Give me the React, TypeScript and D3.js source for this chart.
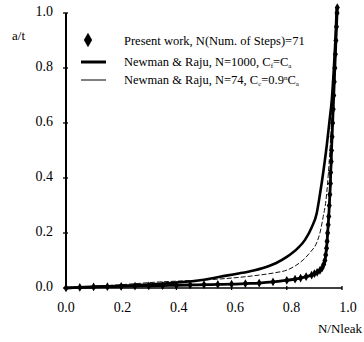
import React from 'react';
import * as d3 from 'd3';

// Present work, N(Num. of Steps)=71
const presentX = [0, 0.05, 0.1, 0.15, 0.2, 0.25, 0.3, 0.35, 0.4, 0.45, 0.5, 0.55, 0.6, 0.65, 0.7, 0.75, 0.8, 0.83, 0.85, 0.87, 0.89, 0.9, 0.91, 0.92, 0.928, 0.934, 0.938, 0.941, 0.944, 0.946, 0.948, 0.95, 0.952, 0.954, 0.956, 0.958, 0.959, 0.961, 0.962, 0.964, 0.966, 0.968, 0.97, 0.972, 0.974, 0.976, 0.978, 0.98, 0.982, 0.983];
const presentY = [0, 0.002, 0.004, 0.005, 0.006, 0.007, 0.008, 0.009, 0.01, 0.011, 0.012, 0.013, 0.014, 0.016, 0.018, 0.022, 0.028, 0.032, 0.036, 0.041, 0.047, 0.052, 0.057, 0.064, 0.073, 0.086, 0.1, 0.12, 0.145, 0.17, 0.2, 0.23, 0.26, 0.3, 0.34, 0.38, 0.42, 0.46, 0.5, 0.55, 0.6, 0.65, 0.7, 0.75, 0.8, 0.85, 0.9, 0.95, 1.0, 1.02];

// Newman & Raju, N=1000
const nr1000X = [0, 0.1, 0.2, 0.3, 0.4, 0.5, 0.558, 0.62, 0.68, 0.714, 0.76, 0.8, 0.84, 0.866, 0.89, 0.908, 0.92, 0.932, 0.945, 0.955, 0.963, 0.97, 0.976, 0.981];
const nr1000Y = [0, 0.004, 0.008, 0.013, 0.02, 0.03, 0.041, 0.052, 0.064, 0.073, 0.09, 0.113, 0.145, 0.175, 0.22, 0.27, 0.34, 0.42, 0.52, 0.61, 0.684, 0.79, 0.9, 1.02];

// Newman & Raju, N=74
const nr74X = [0, 0.2, 0.34, 0.45, 0.53, 0.62, 0.7, 0.76, 0.8, 0.83, 0.859, 0.885, 0.908, 0.92, 0.932, 0.942, 0.953, 0.962, 0.97, 0.977, 0.982];
const nr74Y = [0, 0.012, 0.022, 0.027, 0.031, 0.038, 0.047, 0.056, 0.065, 0.08, 0.102, 0.13, 0.164, 0.2, 0.26, 0.32, 0.45, 0.6, 0.75, 0.9, 1.0];

const ticks = [0, 0.2, 0.4, 0.6, 0.8, 1.0];

const font = '"Liberation Serif", "Times New Roman", serif';

const App = () => {
  const width = 364;
  const height = 342;
  const x = d3.scaleLinear().domain([0, 1]).range([66, 342]);
  const y = d3.scaleLinear().domain([0, 1]).range([288, 13]);

  const line = d3.line<[number, number]>()
    .x(d => x(d[0]))
    .y(d => y(d[1]))
    .curve(d3.curveMonotoneX);

  const zip = (xs: number[], ys: number[]) => xs.map((v, i) => [v, ys[i]] as [number, number]);
  const present = zip(presentX, presentY);
  const nr1000 = zip(nr1000X, nr1000Y);
  const nr74 = zip(nr74X, nr74Y);

  const diamond = d3.symbol().type(d3.symbolDiamond);

  return (
    <div style={{ position: 'absolute', left: 0, top: 0 }}>
      <svg width={width} height={height} style={{ display: 'block', background: '#fff' }} fontFamily={font}>
        {/* curves */}
        <path d={line(nr74) || ''} fill="none" stroke="#111" strokeWidth={1} strokeDasharray="5,2" />
        <path d={line(nr1000) || ''} fill="none" stroke="#000" strokeWidth={2.6} />
        <path d={line(present) || ''} fill="none" stroke="#000" strokeWidth={2.8} />
        {present.map((d, i) => (
          <path key={i} d={diamond.size(22)() || ''} transform={`translate(${x(d[0])},${y(d[1])})`} fill="#000" />
        ))}

        {/* axes */}
        <line x1={x(0)} x2={x(0)} y1={y(0)} y2={y(1)} stroke="#000" strokeWidth={2} />
        <line x1={x(0)} x2={x(1)} y1={y(0)} y2={y(0)} stroke="#000" strokeWidth={1.3} />
        {ticks.map(t => (
          <g key={'y' + t}>
            <line x1={x(0) - 3} x2={x(0) + 2} y1={y(t)} y2={y(t)} stroke="#000" strokeWidth={1.3} />
            <text x={53} y={y(t) + 3} textAnchor="end" fontSize={14}>{t.toFixed(1)}</text>
          </g>
        ))}
        {ticks.map(t => (
          <g key={'x' + t}>
            <line x1={x(t)} x2={x(t)} y1={y(0) - 2} y2={y(0) + 2} stroke="#000" strokeWidth={1.3} />
            <text x={x(t) + t * 6} y={312} textAnchor="middle" fontSize={14}>{t.toFixed(1)}</text>
          </g>
        ))}
        <text x={12} y={40} fontSize={13}>a/t</text>
        <text x={362} y={333} textAnchor="end" fontSize={13}>N/Nleak</text>

        {/* legend */}
        <path d={diamond.size(60)() || ''} transform="translate(88,40)" fill="#000" />
        <text x={124} y={45} fontSize={12.5}>Present work, N(Num. of Steps)=71</text>
        <line x1={81} x2={106} y1={62} y2={62} stroke="#000" strokeWidth={3} />
        <text x={124} y={66} fontSize={12.5}>
          Newman &amp; Raju, N=1000, C<tspan fontSize={7} dy={2}>f</tspan><tspan dy={-2}>=C</tspan><tspan fontSize={7} dy={2}>a</tspan>
        </text>
        <line x1={81} x2={106} y1={80} y2={80} stroke="#000" strokeWidth={1} />
        <text x={124} y={84} fontSize={12.5}>
          Newman &amp; Raju, N=74, C<tspan fontSize={7} dy={2}>c</tspan><tspan dy={-2}>=0.9</tspan><tspan fontSize={7} dy={-4}>n</tspan><tspan dy={4}>C</tspan><tspan fontSize={7} dy={2}>a</tspan>
        </text>
      </svg>
    </div>
  );
};

export default App;
